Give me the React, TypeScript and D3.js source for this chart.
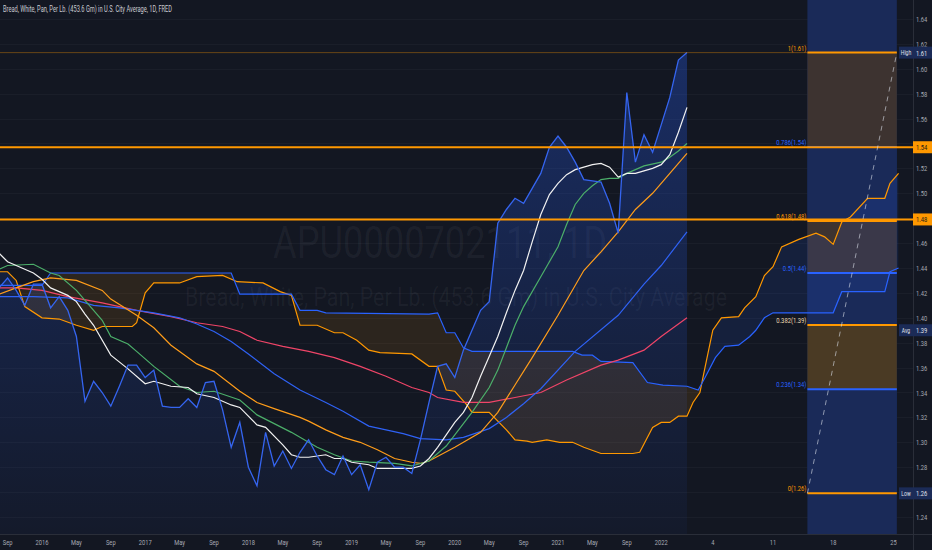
import React from "react";
import * as d3 from "d3";

const W = 932;
const H = 550;
const PANE_R = 913;
const PANE_B = 534;

const TITLE = "Bread, White, Pan, Per Lb. (453.6 Gm) in U.S. City Average, 1D, FRED";
const WM1 = "APU0000702111, 1D";
const WM2 = "Bread, White, Pan, Per Lb. (453.6 Gm) in U.S. City Average";

// monthly price, first value is Aug 2015 (bar -1)
const PRICE_START = -1;
const priceVals = [1.424, 1.432, 1.422, 1.410, 1.427, 1.427, 1.408, 1.417, 1.406, 1.385, 1.333, 1.349, 1.340, 1.329, 1.345, 1.362, 1.362, 1.352, 1.358, 1.329, 1.328, 1.328, 1.335, 1.328, 1.348, 1.349, 1.326, 1.296, 1.316, 1.280, 1.265, 1.308, 1.281, 1.293, 1.279, 1.292, 1.302, 1.289, 1.278, 1.274, 1.289, 1.274, 1.282, 1.262, 1.284, 1.288, 1.280, 1.280, 1.275, 1.302, 1.332, 1.361, 1.363, 1.352, 1.374, 1.390, 1.406, 1.413, 1.476, 1.487, 1.496, 1.492, 1.504, 1.516, 1.537, 1.546, 1.537, 1.525, 1.511, 1.510, 1.509, 1.492, 1.468, 1.581, 1.525, 1.547, 1.533, 1.555, 1.577, 1.607, 1.613];

const whiteBars = [-1, 0, 1, 3, 4, 5, 7, 8, 9, 10, 12, 14, 16, 17, 19, 21, 22, 24, 26, 27, 29, 30, 32, 33, 34, 35, 37, 38, 39, 40, 42, 43, 45, 47, 48, 49, 50, 51, 52, 53, 54, 55, 56, 57, 58, 59, 60, 61, 62, 63, 64, 65, 66, 67, 68, 69, 70, 71, 72, 73, 74, 75, 76, 77, 78, 79];
const whiteVals = [1.452, 1.445, 1.442, 1.436, 1.431, 1.424, 1.418, 1.413, 1.403, 1.394, 1.370, 1.359, 1.347, 1.349, 1.345, 1.344, 1.339, 1.336, 1.330, 1.328, 1.314, 1.312, 1.298, 1.290, 1.288, 1.288, 1.290, 1.287, 1.287, 1.284, 1.282, 1.279, 1.279, 1.279, 1.281, 1.287, 1.296, 1.306, 1.316, 1.324, 1.336, 1.353, 1.369, 1.385, 1.404, 1.422, 1.438, 1.461, 1.483, 1.499, 1.508, 1.515, 1.519, 1.521, 1.523, 1.524, 1.521, 1.513, 1.516, 1.516, 1.518, 1.520, 1.523, 1.531, 1.549, 1.569];

const greenBars = [-1, 0, 3, 5, 6, 8, 10, 11, 12, 14, 15, 17, 20, 22, 24, 27, 29, 31, 33, 35, 36, 38, 40, 42, 45, 47, 49, 51, 52, 54, 56, 57, 58, 59, 60, 62, 63, 64, 65, 66, 67, 68, 69, 70, 71, 72, 74, 76, 77, 78, 79];
const greenVals = [1.439, 1.442, 1.443, 1.436, 1.434, 1.422, 1.406, 1.398, 1.385, 1.379, 1.373, 1.361, 1.345, 1.340, 1.341, 1.334, 1.322, 1.315, 1.308, 1.300, 1.296, 1.290, 1.285, 1.284, 1.283, 1.281, 1.285, 1.297, 1.306, 1.324, 1.344, 1.358, 1.376, 1.394, 1.409, 1.433, 1.445, 1.457, 1.475, 1.491, 1.500, 1.506, 1.511, 1.512, 1.512, 1.516, 1.522, 1.525, 1.529, 1.534, 1.540];

const orangeMaBars = [-1, 1, 3, 5, 8, 11, 12, 15, 17, 19, 22, 24, 27, 29, 31, 34, 35, 37, 39, 41, 43, 45, 47, 48, 49, 52, 55, 57, 59, 61, 64, 67, 69, 71, 73, 75, 77, 79];
const orangeMaVals = [1.419, 1.424, 1.429, 1.432, 1.430, 1.422, 1.415, 1.402, 1.392, 1.378, 1.363, 1.357, 1.341, 1.332, 1.327, 1.320, 1.317, 1.310, 1.304, 1.300, 1.294, 1.287, 1.284, 1.283, 1.285, 1.296, 1.308, 1.324, 1.346, 1.368, 1.402, 1.438, 1.453, 1.469, 1.487, 1.500, 1.516, 1.532];

const blueMaBars = [-1, 3, 7, 10, 13, 17, 20, 22, 24, 26, 28, 31, 34, 37, 39, 42, 44, 46, 48, 51, 53, 56, 58, 60, 62, 66, 71, 74, 76, 79];
const blueMaVals = [1.417, 1.417, 1.416, 1.410, 1.408, 1.404, 1.400, 1.395, 1.389, 1.381, 1.371, 1.355, 1.342, 1.332, 1.325, 1.313, 1.310, 1.307, 1.303, 1.302, 1.304, 1.311, 1.320, 1.331, 1.343, 1.373, 1.402, 1.427, 1.442, 1.469];

const redBars = [-1, 1, 4, 7, 11, 15, 19, 22, 25, 27, 29, 32, 35, 38, 41, 44, 47, 49, 50, 53, 56, 59, 62, 65, 69, 71, 74, 76, 79];
const redVals = [1.424, 1.424, 1.422, 1.417, 1.412, 1.406, 1.401, 1.396, 1.393, 1.389, 1.382, 1.377, 1.373, 1.368, 1.361, 1.353, 1.344, 1.340, 1.336, 1.332, 1.332, 1.336, 1.340, 1.350, 1.362, 1.366, 1.374, 1.385, 1.400];

// cloud (leading spans, shifted into the future)
const spanABars = [-1, 0, 1, 2, 4, 6, 8, 10, 11, 14.5, 15, 16, 17, 20, 22, 25, 26.7, 29.7, 31.7, 33, 34, 36, 38, 39, 40.6, 42, 43.3, 47, 49, 50, 51, 52, 53.4, 54, 56, 58, 59, 60.4, 61, 62.7, 64.2, 65.7, 67, 69, 72.7, 73.5, 75, 76, 77, 78, 79, 79.7, 80.5, 81, 82, 83, 85, 85.7, 87, 88, 89, 90, 92, 94, 95, 96, 97, 98, 100, 102, 102.6, 103.6];
const spanAVals = [1.437, 1.437, 1.430, 1.409, 1.400, 1.399, 1.394, 1.390, 1.393, 1.393, 1.396, 1.420, 1.428, 1.428, 1.433, 1.434, 1.429, 1.428, 1.421, 1.418, 1.394, 1.394, 1.388, 1.388, 1.382, 1.374, 1.372, 1.371, 1.361, 1.361, 1.342, 1.341, 1.330, 1.324, 1.324, 1.310, 1.302, 1.301, 1.300, 1.302, 1.300, 1.300, 1.296, 1.291, 1.291, 1.292, 1.312, 1.316, 1.316, 1.321, 1.321, 1.332, 1.340, 1.357, 1.390, 1.400, 1.401, 1.408, 1.417, 1.434, 1.441, 1.457, 1.463, 1.468, 1.465, 1.459, 1.477, 1.481, 1.496, 1.496, 1.508, 1.516];

const spanBBars = [-1, 4, 5, 26, 27, 33, 34, 36, 37, 49, 50, 51, 52, 53, 54, 65.7, 66.8, 68, 69, 72.7, 74.4, 76.2, 79, 80.3, 81.1, 82.3, 83.4, 85, 86.3, 87, 88, 89, 96, 97, 102, 102.6, 103.6];
const spanBVals = [1.426, 1.426, 1.436, 1.436, 1.419, 1.419, 1.406, 1.406, 1.404, 1.403, 1.404, 1.388, 1.388, 1.376, 1.373, 1.373, 1.370, 1.370, 1.365, 1.364, 1.348, 1.346, 1.345, 1.342, 1.352, 1.368, 1.377, 1.378, 1.385, 1.390, 1.400, 1.404, 1.404, 1.421, 1.421, 1.437, 1.440];

// fib retracement
const fibLow = 1.259;
const fibHigh = 1.613;
const fibStartBar = 93;
const fibEndBar = 103.4;
const fibLevels = [0, 0.236, 0.382, 0.5, 0.618, 0.786, 1];
const fibLevelColors = ["#ff9800", "#2962ff", "#ff9800", "#2962ff", "#ff9800", "#2962ff", "#ff9800"];
const fibLabelColors = ["#ff9800", "#2962ff", "#f0d9b0", "#2962ff", "#ff9800", "#2962ff", "#ff9800"];
const fibZoneFills = ["#1a2a58", "#4a3a24", "#1a2a58", "#3d3330", "#1a2a58", "#3d3330"];

const hLineVals = [1.537, 1.479];
const hLineLabels = ["1.54", "1.48"];

const tagNames = ["High", "Avg", "Low"];
const tagVals = [1.613, 1.39, 1.259];
const tagLabels = ["1.61", "1.39", "1.26"];

const priceTicks = [1.24, 1.26, 1.28, 1.30, 1.32, 1.34, 1.36, 1.38, 1.40, 1.42, 1.44, 1.46, 1.48, 1.50, 1.52, 1.54, 1.56, 1.58, 1.60, 1.62, 1.64];
const timeTickBars = [0, 4, 8, 12, 16, 20, 24, 28, 32, 36, 40, 44, 48, 52, 56, 60, 64, 68, 72, 76, 82, 89, 96, 103];
const timeTickLabels = ["Sep", "2016", "May", "Sep", "2017", "May", "Sep", "2018", "May", "Sep", "2019", "May", "Sep", "2020", "May", "Sep", "2021", "May", "Sep", "2022", "4", "11", "18", "25"];

const FONT = "Roboto, 'Noto Sans', sans-serif";
const AXIS_COLOR = "#a7aab3";

export default function App() {
  const x = d3.scaleLinear().domain([0, 103]).range([7.6, 893.4]);
  const y = d3.scaleLinear().domain([1.24, 1.64]).range([517, 19]);

  const zip = (b: number[], v: number[]) => b.map((bb, i) => [bb, v[i]] as [number, number]);
  const line = d3.line<[number, number]>().x((d) => x(d[0])).y((d) => y(d[1]));
  const areaToBottom = d3.area<[number, number]>().x((d) => x(d[0])).y0(PANE_B).y1((d) => y(d[1]));
  const areaToTop = d3.area<[number, number]>().x((d) => x(d[0])).y0(0).y1((d) => y(d[1]));

  const pricePts = priceVals.map((v, i) => [PRICE_START + i, v] as [number, number]);
  const spanA = zip(spanABars, spanAVals);
  const spanB = zip(spanBBars, spanBVals);

  const fx0 = x(fibStartBar);
  const fx1 = x(fibEndBar);
  const fibPrice = (l: number) => fibLow + (fibHigh - fibLow) * l;

  const tagYs = [...hLineVals, ...tagVals].map((v) => y(v));
  const visibleTicks = priceTicks.filter((t) => tagYs.every((ty) => Math.abs(ty - y(t)) > 8));

  const ctext = (tx: number, ty: number, s: string, opts: any = {}) => (
    <text
      transform={`translate(${tx},${ty}) scale(${opts.sx ?? 0.72},1)`}
      textAnchor={opts.anchor ?? "middle"}
      fontSize={opts.size ?? 8}
      fill={opts.fill ?? AXIS_COLOR}
      fontFamily={FONT}
    >
      {s}
    </text>
  );

  return (
    <svg width={W} height={H} style={{ display: "block", position: "absolute", left: 0, top: 0 }}>
      <defs>
        <clipPath id="pane">
          <rect x={0} y={0} width={PANE_R} height={PANE_B} />
        </clipPath>
        <clipPath id="belowA">
          <path d={areaToBottom(spanA) || ""} />
        </clipPath>
        <clipPath id="aboveA">
          <path d={areaToTop(spanA) || ""} />
        </clipPath>
        <linearGradient id="pg" gradientUnits="userSpaceOnUse" x1={0} y1={50} x2={0} y2={PANE_B}>
          <stop offset="0" stopColor="#2962ff" stopOpacity={0.3} />
          <stop offset="1" stopColor="#2962ff" stopOpacity={0.04} />
        </linearGradient>
      </defs>
      <rect x={0} y={0} width={W} height={H} fill="#131722" />

      <g clipPath="url(#pane)">
        {/* grid */}
        {priceTicks.map((t) => (
          <line key={"g" + t} x1={0} x2={PANE_R} y1={Math.round(y(t)) + 0.5} y2={Math.round(y(t)) + 0.5} stroke="#1a1e29" strokeWidth={1} />
        ))}

        {/* watermark */}
        <text x={273} y={258} fontSize={44} fontFamily={FONT} fill="rgba(178,181,190,0.07)" textLength={334} lengthAdjust="spacingAndGlyphs">
          {WM1}
        </text>
        <text x={185} y={306} fontSize={25} fontFamily={FONT} fill="rgba(178,181,190,0.07)" textLength={542} lengthAdjust="spacingAndGlyphs">
          {WM2}
        </text>

        {/* fib background band */}
        <rect x={fx0} y={0} width={fx1 - fx0} height={PANE_B} fill="#1a2a58" />
        {fibZoneFills.map((c, i) => {
          const ya = y(fibPrice(fibLevels[i + 1]));
          const yb = y(fibPrice(fibLevels[i]));
          return <rect key={"fz" + i} x={fx0} y={ya} width={fx1 - fx0} height={yb - ya} fill={c} />;
        })}

        {/* price area fill */}
        <path d={areaToBottom(pricePts) || ""} fill="url(#pg)" />

        {/* cloud fills */}
        <path d={areaToTop(spanB) || ""} clipPath="url(#belowA)" fill="rgba(41,98,255,0.12)" />
        <path d={areaToBottom(spanB) || ""} clipPath="url(#aboveA)" fill="rgba(255,152,0,0.11)" />

        {/* cloud lines */}
        <path d={line(spanA) || ""} fill="none" stroke="#ff9800" strokeWidth={1.2} />
        <path d={line(spanB) || ""} fill="none" stroke="#2962ff" strokeWidth={1.2} />

        {/* moving averages */}
        <path d={line(zip(redBars, redVals)) || ""} fill="none" stroke="#f04568" strokeWidth={1.2} />
        <path d={line(zip(blueMaBars, blueMaVals)) || ""} fill="none" stroke="#2f62f5" strokeWidth={1.2} />
        <path d={line(zip(orangeMaBars, orangeMaVals)) || ""} fill="none" stroke="#ff9d1a" strokeWidth={1.2} />
        <path d={line(zip(greenBars, greenVals)) || ""} fill="none" stroke="#4caf6a" strokeWidth={1.2} />
        <path d={line(zip(whiteBars, whiteVals)) || ""} fill="none" stroke="#f2f2f2" strokeWidth={1.2} />

        {/* price */}
        <path d={line(pricePts) || ""} fill="none" stroke="#3565f0" strokeWidth={1.3} />

        {/* thin line at the high, extending left */}
        <line x1={0} x2={fx0} y1={y(fibHigh)} y2={y(fibHigh)} stroke="#ff9800" strokeOpacity={0.45} strokeWidth={0.8} />

        {/* fib levels */}
        {fibLevels.map((l, i) => (
          <g key={"fl" + l}>
            <line x1={fx0} x2={fx1} y1={y(fibPrice(l))} y2={y(fibPrice(l))} stroke={fibLevelColors[i]} strokeWidth={2} />
            {ctext(fx0 - 1, y(fibPrice(l)) - 2, `${l}(${fibPrice(l).toFixed(2)})`, { anchor: "end", size: 7.5, fill: fibLabelColors[i], sx: 0.78 })}
          </g>
        ))}

        {/* horizontal lines (on top of the fib levels) */}
        {hLineVals.map((v) => (
          <line key={"h" + v} x1={0} x2={PANE_R} y1={y(v)} y2={y(v)} stroke="#ff9800" strokeWidth={2} />
        ))}

        {/* trend line of the fib */}
        <line x1={x(fibStartBar)} y1={y(fibLow)} x2={x(fibEndBar)} y2={y(fibHigh)} stroke="rgba(220,225,235,0.6)" strokeWidth={1} strokeDasharray="5 5" />
      </g>

      {/* title */}
      <text x={3} y={11.5} fontSize={8.5} fontFamily={FONT} fill="#c9cbd1" textLength={169} lengthAdjust="spacingAndGlyphs">
        {TITLE}
      </text>

      {/* axes borders */}
      <line x1={0} x2={W} y1={PANE_B + 0.5} y2={PANE_B + 0.5} stroke="#2a2e39" />
      <line x1={PANE_R + 0.5} x2={PANE_R + 0.5} y1={0} y2={H} stroke="#2a2e39" />

      {/* price axis */}
      {visibleTicks.map((t) => (
        <g key={"pt" + t}>{ctext(916, y(t) + 3, t.toFixed(2), { anchor: "start", size: 8 })}</g>
      ))}

      {/* horizontal line tags */}
      {hLineVals.map((v, i) => (
        <g key={"ht" + v}>
          <rect x={PANE_R} y={y(v) - 6} width={W - PANE_R} height={12} fill="#ff9800" />
          {ctext(916, y(v) + 3, hLineLabels[i], { anchor: "start", fill: "#1b1b1b" })}
        </g>
      ))}

      {/* High / Avg / Low tags */}
      {tagNames.map((n, i) => (
        <g key={"tg" + n}>
          <rect x={899} y={y(tagVals[i]) - 6} width={W - 899} height={12} fill="#1b2b57" />
          {ctext(906, y(tagVals[i]) + 2.5, n, { size: 7, fill: "#e0e3eb" })}
          {ctext(916, y(tagVals[i]) + 3, tagLabels[i], { anchor: "start", fill: "#e0e3eb" })}
        </g>
      ))}

      {/* time axis */}
      {timeTickBars.map((b, i) => (
        <g key={"tt" + i}>{ctext(x(b), 545, timeTickLabels[i], { size: 8 })}</g>
      ))}
    </svg>
  );
}
